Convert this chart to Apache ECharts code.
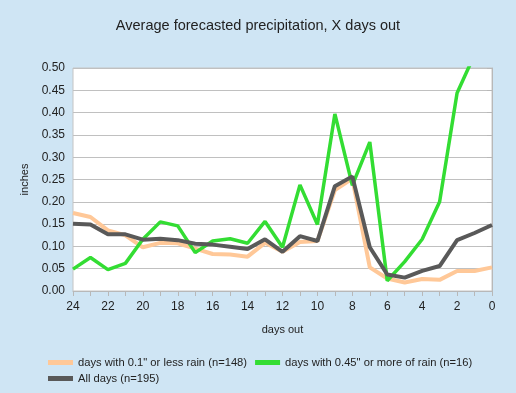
<!DOCTYPE html>
<html>
<head>
<meta charset="utf-8">
<script src="https://cdn.jsdelivr.net/npm/echarts@6/dist/echarts.min.js"></script>
<style>
html,body{margin:0;padding:0;background:#cfe5f4;}
#c{width:516px;height:393px;}
</style>
</head>
<body>
<div id="c"></div>
<script>
const days = [24,23,22,21,20,19,18,17,16,15,14,13,12,11,10,9,8,7,6,5,4,3,2,1,0];
const lessRain = [0.175,0.166,0.136,0.125,0.098,0.108,0.107,0.095,0.083,0.082,0.077,0.108,0.088,0.110,0.112,0.226,0.252,0.053,0.028,0.019,0.027,0.025,0.045,0.045,0.053];
const moreRain = [0.049,0.075,0.048,0.062,0.116,0.155,0.146,0.086,0.112,0.117,0.107,0.156,0.098,0.238,0.149,0.397,0.237,0.334,0.023,0.066,0.116,0.200,0.444,0.53,0.58];
const allDays = [0.151,0.149,0.127,0.127,0.115,0.117,0.114,0.106,0.104,0.099,0.094,0.116,0.088,0.123,0.112,0.235,0.257,0.098,0.037,0.030,0.045,0.056,0.114,0.130,0.148];
const seriesNames = ['days with 0.1" or less rain (n=148)','days with 0.45" or more of rain (n=16)','All days (n=195)'];
const titleText = 'Average forecasted precipitation, X days out';

const pairs = arr => days.map((d,i)=>[d, arr[i]]);
const font = 'Liberation Sans, Arial, sans-serif';
const legendText = {fontFamily:font,fontSize:11.2,color:'#222'};
const chart = echarts.init(document.getElementById('c'), null, {renderer:'canvas'});
chart.setOption({
  backgroundColor:'#cfe5f4',
  animation:false,
  title:{text:titleText,left:'center',top:13,textStyle:{fontFamily:font,fontSize:14.5,fontWeight:'normal',color:'#222'}},
  grid:{left:73,right:24,top:68,bottom:102,show:true,backgroundColor:'#ffffff',borderColor:'#c4c4c4',borderWidth:1},
  legend:[
    {left:48,top:357,padding:0,itemWidth:25,itemHeight:5,itemGap:8,icon:'rect',textStyle:legendText,data:[seriesNames[0],seriesNames[1]]},
    {left:48,top:373,padding:0,itemWidth:25,itemHeight:5,itemGap:8,icon:'rect',textStyle:legendText,data:[seriesNames[2]]}
  ],
  xAxis:{
    type:'value',min:0,max:24,interval:1,inverse:true,
    name:'days out',nameLocation:'middle',nameGap:33,
    nameTextStyle:{fontFamily:font,fontSize:11,color:'#222'},
    axisLine:{show:true,lineStyle:{color:'#b8b8b8'}},
    axisTick:{show:true,length:5,lineStyle:{color:'#b8b8b8'}},
    axisLabel:{fontFamily:font,fontSize:12,color:'#222',margin:10,formatter:v=> v%2===0 ? String(v) : ''},
    splitLine:{show:false}
  },
  yAxis:{
    type:'value',min:0,max:0.5,interval:0.05,
    name:'inches',nameLocation:'middle',nameGap:43,nameRotate:90,
    nameTextStyle:{fontFamily:font,fontSize:11,color:'#222'},
    axisLine:{show:true,lineStyle:{color:'#b8b8b8'}},
    axisTick:{show:true,length:5,lineStyle:{color:'#b8b8b8'}},
    axisLabel:{fontFamily:font,fontSize:12,color:'#222',margin:8,formatter:v=>v.toFixed(2)},
    splitLine:{show:true,lineStyle:{color:'#c0c0c0',width:1}}
  },
  series:[
    {name:seriesNames[0],type:'line',data:pairs(lessRain),showSymbol:false,symbol:'none',clip:true,lineStyle:{color:'#ffc898',width:4},itemStyle:{color:'#ffc898'},z:2},
    {name:seriesNames[1],type:'line',data:pairs(moreRain),showSymbol:false,symbol:'none',clip:true,lineStyle:{color:'#33dd33',width:3.5},itemStyle:{color:'#33dd33'},z:3},
    {name:seriesNames[2],type:'line',data:pairs(allDays),showSymbol:false,symbol:'none',clip:true,lineStyle:{color:'#595959',width:4},itemStyle:{color:'#595959'},z:4}
  ]
});
</script>
</body>
</html>
